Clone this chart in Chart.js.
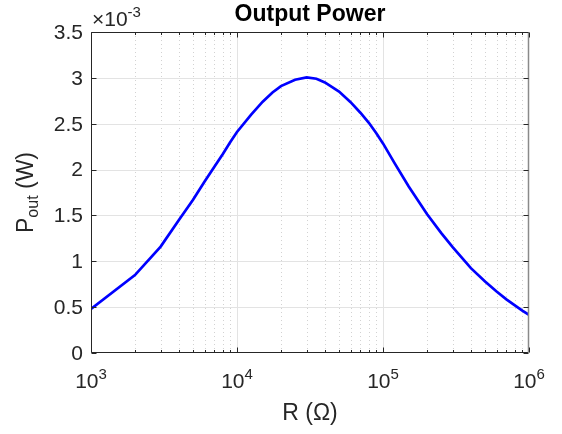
<!DOCTYPE html>
<html>
<head>
<meta charset="utf-8">
<title>Output Power</title>
<script src="https://cdn.jsdelivr.net/npm/chart.js@4.4.1/dist/chart.umd.min.js"></script>
<style>
  html, body { margin: 0; padding: 0; background: #ffffff; }
  #wrap { width: 562px; height: 434px; }
</style>
</head>
<body>
<div id="wrap"><canvas id="powerChart" width="562" height="434"></canvas></div>
<script>
const resistance = [1e3, 2e3, 3e3, 4e3, 5e3, 6e3, 7e3, 8e3, 9e3,
                    1e4, 1.25e4, 1.5e4, 1.75e4, 2e4, 2.5e4, 3e4, 3.5e4, 4e4, 5e4, 6e4, 7e4, 8e4, 9e4,
                    1e5, 1.2e5, 1.5e5, 2e5, 2.5e5, 3e5, 4e5, 5e5, 6e5, 7e5, 8e5, 9e5, 1e6];
const powerMilliW = [0.48, 0.85, 1.16, 1.45, 1.67, 1.87, 2.03, 2.17, 2.30,
                     2.41, 2.60, 2.74, 2.84, 2.91, 2.98, 3.005, 2.99, 2.95, 2.85, 2.735, 2.62, 2.51, 2.395,
                     2.285, 2.07, 1.815, 1.515, 1.31, 1.155, 0.925, 0.78, 0.67, 0.585, 0.52, 0.463, 0.415];

const yTicks = [0, 0.5, 1, 1.5, 2, 2.5, 3, 3.5];
const yTickLabels = ['0', '0.5', '1', '1.5', '2', '2.5', '3', '3.5'];
const xDecades = [1e3, 1e4, 1e5, 1e6];
const xTickExponents = ['3', '4', '5', '6'];
const minorSteps = [2, 3, 4, 5, 6, 7, 8, 9];

const FONT = '"Liberation Sans", Arial, Helvetica, sans-serif';
const AXIS_COLOR = '#262626';

// Gitter, Achsen und Beschriftungen im MATLAB-Stil
const matlabStyle = {
    id: 'matlabStyle',
    beforeDatasetsDraw(chart) {
        const ctx = chart.ctx;
        const area = chart.chartArea;
        const xs = chart.scales.x;
        const ys = chart.scales.y;
        ctx.save();
        ctx.lineWidth = 1;

        // kleine Gitterlinien (gepunktet)
        ctx.strokeStyle = '#d2d2d2';
        ctx.setLineDash([1, 3]);
        for (let i = 0; i < xDecades.length - 1; i++) {
            minorSteps.forEach(k => {
                const px = Math.round(xs.getPixelForValue(xDecades[i] * k)) + 0.5;
                ctx.beginPath();
                ctx.moveTo(px, area.top);
                ctx.lineTo(px, area.bottom);
                ctx.stroke();
            });
        }
        ctx.setLineDash([]);

        // grosse Gitterlinien
        ctx.strokeStyle = '#e3e3e3';
        xDecades.slice(1, -1).forEach(v => {
            const px = Math.round(xs.getPixelForValue(v)) + 0.5;
            ctx.beginPath();
            ctx.moveTo(px, area.top);
            ctx.lineTo(px, area.bottom);
            ctx.stroke();
        });
        yTicks.slice(1, -1).forEach(v => {
            const py = Math.round(ys.getPixelForValue(v)) + 0.5;
            ctx.beginPath();
            ctx.moveTo(area.left, py);
            ctx.lineTo(area.right, py);
            ctx.stroke();
        });
        ctx.restore();
    },
    afterDatasetsDraw(chart) {
        const ctx = chart.ctx;
        const area = chart.chartArea;
        const xs = chart.scales.x;
        const ys = chart.scales.y;
        const L = Math.round(area.left) + 0.5;
        const R = Math.round(area.right) - 0.5;
        const T = Math.round(area.top) + 0.5;
        const B = Math.round(area.bottom) - 0.5;
        ctx.save();
        ctx.lineWidth = 1;
        ctx.strokeStyle = AXIS_COLOR;

        // Rahmen
        ctx.beginPath();
        ctx.moveTo(L, T); ctx.lineTo(R, T);
        ctx.moveTo(L, T); ctx.lineTo(L, B);
        ctx.lineTo(R, B);
        ctx.stroke();
        ctx.strokeStyle = '#8a8a8a';
        ctx.lineWidth = 1.5;
        ctx.beginPath();
        ctx.moveTo(R, T); ctx.lineTo(R, B);
        ctx.stroke();

        // Teilstriche
        ctx.strokeStyle = AXIS_COLOR;
        ctx.lineWidth = 1;
        ctx.beginPath();
        yTicks.forEach(v => {
            const py = Math.round(ys.getPixelForValue(v)) + 0.5;
            ctx.moveTo(L, py); ctx.lineTo(L + 5, py);
            ctx.moveTo(R, py); ctx.lineTo(R - 5, py);
        });
        xDecades.forEach(v => {
            const px = Math.round(xs.getPixelForValue(v)) + 0.5;
            ctx.moveTo(px, B); ctx.lineTo(px, B - 5);
            ctx.moveTo(px, T); ctx.lineTo(px, T + 5);
        });
        for (let i = 0; i < xDecades.length - 1; i++) {
            minorSteps.forEach(k => {
                const px = Math.round(xs.getPixelForValue(xDecades[i] * k)) + 0.5;
                ctx.moveTo(px, B); ctx.lineTo(px, B - 2.5);
                ctx.moveTo(px, T); ctx.lineTo(px, T + 2.5);
            });
        }
        ctx.stroke();
        ctx.restore();
    },
    afterDraw(chart) {
        const ctx = chart.ctx;
        const area = chart.chartArea;
        const xs = chart.scales.x;
        const ys = chart.scales.y;
        const midX = (area.left + area.right) / 2;
        const midY = (area.top + area.bottom) / 2;
        ctx.save();

        // Titel
        ctx.fillStyle = '#000000';
        ctx.font = 'bold 23px ' + FONT;
        ctx.textAlign = 'center';
        ctx.textBaseline = 'alphabetic';
        ctx.fillText('Output Power', midX, 21);

        ctx.fillStyle = AXIS_COLOR;

        // y-Achse Zahlen
        ctx.font = '21px ' + FONT;
        ctx.textAlign = 'right';
        ctx.textBaseline = 'middle';
        yTicks.forEach((v, i) => {
            ctx.fillText(yTickLabels[i], area.left - 8, ys.getPixelForValue(v) + 1);
        });

        // Exponent oben links
        ctx.textAlign = 'left';
        ctx.textBaseline = 'alphabetic';
        ctx.font = '21px ' + FONT;
        const baseTxt = '\u00d710';
        ctx.fillText(baseTxt, area.left + 1, 26);
        const bw = ctx.measureText(baseTxt).width;
        ctx.font = '15px ' + FONT;
        ctx.fillText('-3', area.left + 1 + bw, 17);

        // x-Achse Zehnerpotenzen
        xDecades.forEach((v, i) => {
            ctx.font = '21px ' + FONT;
            const w1 = ctx.measureText('10').width;
            ctx.font = '15px ' + FONT;
            const w2 = ctx.measureText(xTickExponents[i]).width;
            const x0 = xs.getPixelForValue(v) - (w1 + w2) / 2;
            ctx.font = '21px ' + FONT;
            ctx.fillText('10', x0, 388);
            ctx.font = '15px ' + FONT;
            ctx.fillText(xTickExponents[i], x0 + w1, 379);
        });

        // x-Achse Titel
        ctx.font = '23px ' + FONT;
        ctx.textAlign = 'center';
        ctx.fillText('R (\u03a9)', midX, 420);

        // y-Achse Titel mit Index
        ctx.translate(33, midY);
        ctx.rotate(-Math.PI / 2);
        ctx.textAlign = 'left';
        ctx.font = '23px ' + FONT;
        const wP = ctx.measureText('P').width;
        const wW = ctx.measureText(' (W)').width;
        ctx.font = '16px ' + FONT;
        const wSub = ctx.measureText('out').width;
        let sx = -(wP + wSub + wW) / 2;
        ctx.font = '23px ' + FONT;
        ctx.fillText('P', sx, 0);
        sx += wP;
        ctx.font = '16px ' + FONT;
        ctx.fillText('out', sx, 5);
        sx += wSub;
        ctx.font = '23px ' + FONT;
        ctx.fillText(' (W)', sx, 0);

        ctx.restore();
    }
};

const points = resistance.map((r, i) => ({ x: r, y: powerMilliW[i] }));

new Chart(document.getElementById('powerChart').getContext('2d'), {
    type: 'line',
    data: {
        datasets: [{
            label: 'P_out',
            data: points,
            borderColor: '#0000ff',
            borderWidth: 2.7,
            pointRadius: 0,
            tension: 0,
            fill: false
        }]
    },
    options: {
        responsive: false,
        animation: false,
        layout: { padding: { top: 32, right: 33, left: 0, bottom: 0 } },
        plugins: {
            legend: { display: false },
            title: { display: false },
            tooltip: { enabled: false }
        },
        scales: {
            x: {
                type: 'logarithmic',
                min: 1e3,
                max: 1e6,
                ticks: { display: false },
                grid: { display: false },
                border: { display: false },
                afterFit: s => { s.height = 81; }
            },
            y: {
                type: 'linear',
                min: 0,
                max: 3.5,
                ticks: { display: false },
                grid: { display: false },
                border: { display: false },
                afterFit: s => { s.width = 91; }
            }
        }
    },
    plugins: [matlabStyle]
});
</script>
</body>
</html>
